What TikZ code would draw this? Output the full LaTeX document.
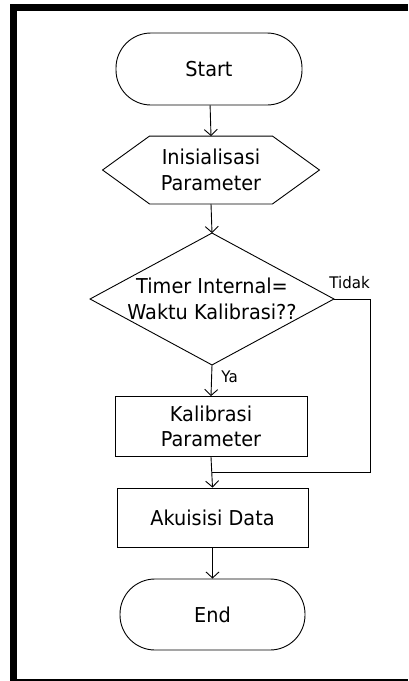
\documentclass[tikz,border=0pt]{standalone}
\usepackage{fontspec}
\setmainfont[FakeStretch=0.94]{DejaVu Sans}
\usetikzlibrary{arrows.meta,calc}
\begin{document}
\begin{tikzpicture}[x=1pt,y=-1pt,
  line width=0.9pt,
  every node/.style={font=\fontsize{20.5}{25.5}\selectfont, align=center, inner sep=0pt},
  term/.style={draw, rounded corners=35pt, minimum width=186pt, minimum height=72pt},
  procbox/.style={draw, minimum width=192pt, minimum height=60pt},
  lbl/.style={font=\fontsize{16}{19}\selectfont, anchor=base west},
  flow/.style={-{Straight Barb[length=6pt,width=13pt]}}
]
\useasboundingbox (0,0) rectangle (408,681);

% page frame
\fill (10,4) rectangle (408,10.5);
\fill (10,4) rectangle (16.5,681);
\fill (16,679.2) rectangle (408,681);

% nodes
\node[term] (start) at (209,69) {Start};
\node[minimum width=216pt, minimum height=67pt] (init) at (211,170) {Inisialisasi\\Parameter};
\draw ([xshift=47pt]init.north west) -- ([xshift=-47pt]init.north east) -- (init.east)
  -- ([xshift=-47pt]init.south east) -- ([xshift=47pt]init.south west) -- (init.west) -- cycle;
\node[minimum width=243pt, minimum height=131pt] (dec) at (212,299) {Timer Internal=\\Waktu Kalibrasi??};
\draw (dec.north) -- (dec.east) -- (dec.south) -- (dec.west) -- cycle;
\node[procbox] (cal) at (211,426.5) {Kalibrasi\\Parameter};
\node[procbox, minimum width=191pt, minimum height=59pt] (acq) at (212.5,517.5) {Akuisisi Data};
\node[term, minimum width=185pt, minimum height=71pt] (end) at (212.5,614.5) {End};

\coordinate (j) at ($(cal.south)!0.5!(acq.north)$);

% connectors
\draw[flow] (start) -- (init.north);
\draw[flow] (init.south) -- (dec.north);
\draw[flow] (dec.south) -- (cal.north);
\draw[flow] (cal.south) -- (acq.north);
\draw (dec.east) -- ++(36,0) |- (j);
\draw[flow] (acq.south) -- (end.north);

% branch labels
\node[lbl] at (329,288) {Tidak};
\node[lbl] at (221,382.5) {Ya};
\end{tikzpicture}
\end{document}
